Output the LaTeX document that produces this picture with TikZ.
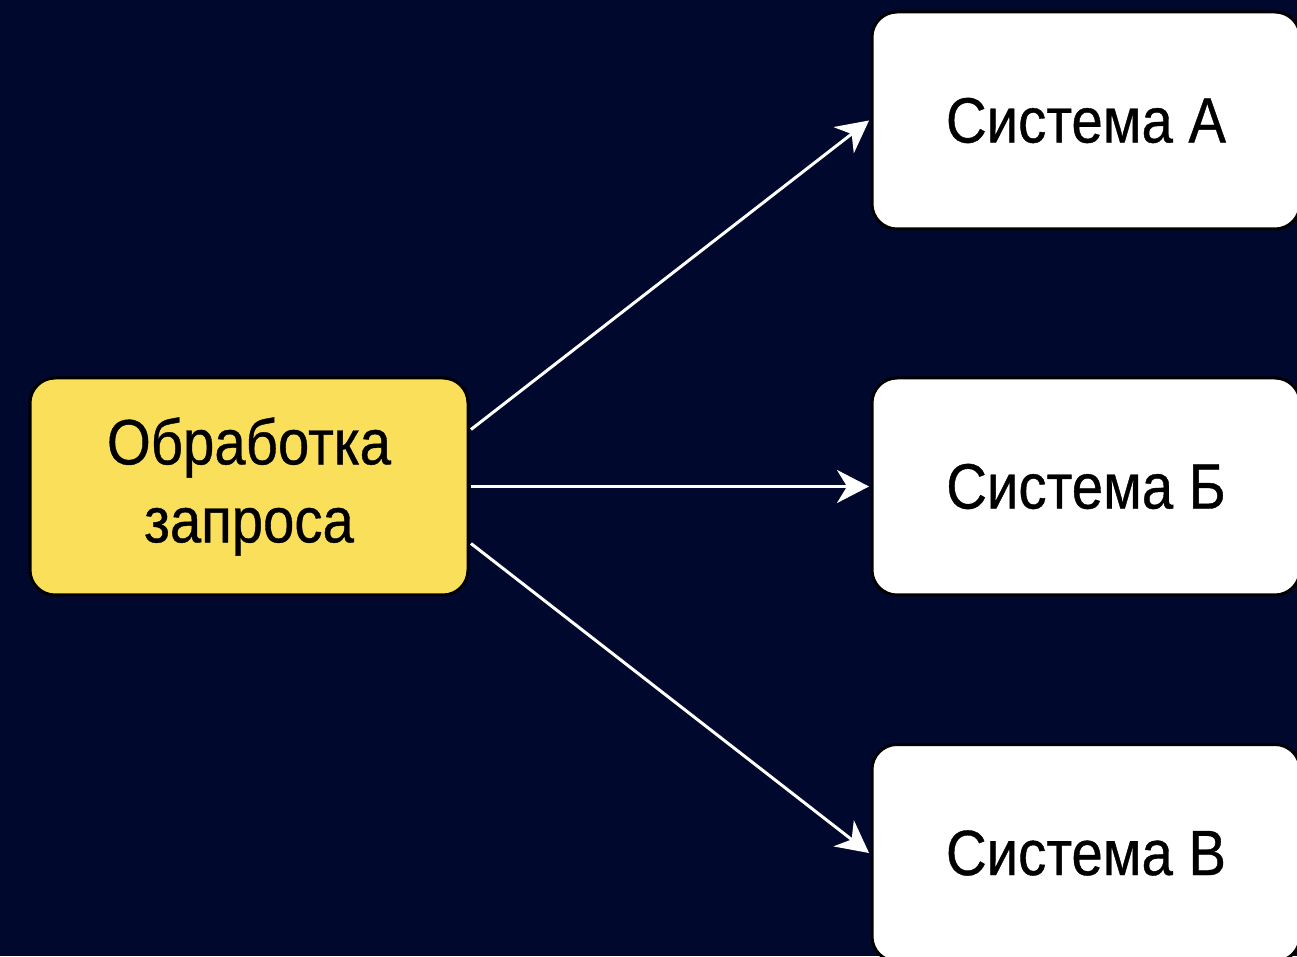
\documentclass[tikz,border=0pt]{standalone}
\usepackage{fontspec}
\setmainfont{Liberation Sans}[FakeStretch=0.88, FakeBold=0.6]
\usetikzlibrary{arrows.meta}
\definecolor{bgnavy}{RGB}{0,8,45}
\definecolor{procyellow}{RGB}{250,223,90}

\begin{document}
\begin{tikzpicture}[x=1pt, y=1pt,
    box/.style = {draw=black, line width=3pt, rounded corners=25pt, minimum width=438pt, minimum height=217pt, align=center, font=\fontsize{64}{78}\selectfont},
    sysbox/.style = {box, fill=white, minimum width=428pt},
    arr/.style = {draw=white, line width=3pt, -{Stealth[length=32pt, width=33pt, inset=10pt]}}]
      \fill [bgnavy] (0,0) rectangle (1297,956);
      \useasboundingbox (0,0) rectangle (1297,956);
      \node [box, fill=procyellow] (proc) at (249, 469.5) {Обработка\\запроса};
      \node [sysbox] (sysA) at (1086, 835.5) {Система А};
      \node [sysbox] (sysB) at (1086, 469.5) {Система Б};
      \node [sysbox] (sysC) at (1086, 103) {Система В};

      \foreach \n/\s in {sysA/57, sysB/0, sysC/-57}
               {
                 \draw [arr] ([yshift=\s pt, xshift=1.5pt]proc.east) -- ([xshift=-1.5pt]\n.west);
               }
    \end{tikzpicture}
\end{document}
